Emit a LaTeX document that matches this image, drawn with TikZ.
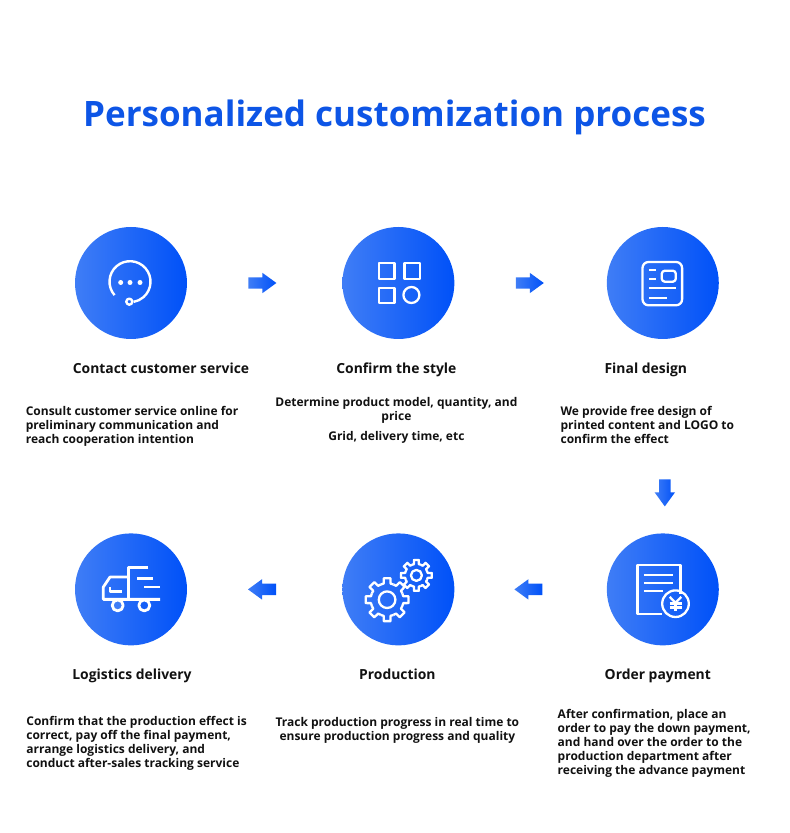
\documentclass[tikz,border=0pt]{standalone}
\usepackage{fontspec}
\setmainfont{Open Sans}
\usepackage{xcolor}
\usetikzlibrary{positioning, shapes.arrows}
\definecolor{TitleBlue}{HTML}{0D55E6}
\definecolor{DiscLight}{HTML}{3F7DF6}
\definecolor{DiscDark}{HTML}{0051F8}
\definecolor{Ink}{HTML}{111111}
\newcommand{\drawgear}[4]{%
  \begin{scope}[shift={#1}]
    \foreach \a in {0,45,...,315}
      \draw[icon] (\a-22.5:#3) -- (\a-12:#3) -- (\a-9:#2) -- (\a+9:#2) -- (\a+12:#3) -- (\a+22.5:#3);
    \draw[icon] (0,0) circle (#4);
  \end{scope}}
\begin{document}
\begin{tikzpicture}[
  x=1pt, y=1pt,
  disc/.style={circle, minimum size=112pt, inner sep=0pt, left color=DiscLight, right color=DiscDark},
  blockarrow/.style={single arrow, minimum width=20pt, minimum height=28pt, inner xsep=0pt, inner ysep=5.5pt, single arrow head extend=4.5pt, single arrow tip angle=72, left color=DiscLight, right color=DiscDark},
  icon/.style={draw=white, line width=2.3pt, line join=round},
  head/.style={font=\bfseries\fontsize{13.9}{17}\selectfont, color=Ink, inner sep=0pt},
  desc/.style={font=\bfseries\fontsize{12}{14}\selectfont, color=Ink, inner sep=0pt, align=left}
]
\useasboundingbox (0,0) rectangle (790,833);
\node[font=\bfseries\fontsize{35}{40}\selectfont, color=TitleBlue, inner sep=0pt] (title) at (394.5,716) {Personalized customization process};

\node[disc] (contact) at (131,550) {};
\node[disc, right=155pt of contact] (style) {};
\node[disc, right=152pt of style] (final) {};
\node[disc, below=194pt of contact] (logistics) {};
\node[disc, below=194pt of style] (production) {};
\node[disc, below=194pt of final] (order) {};

\node[blockarrow, right=61pt of contact] (arrowa) {};
\node[blockarrow, right=61pt of style] (arrowb) {};
\node[blockarrow, shape border rotate=270, below=140pt of final, xshift=2pt, minimum height=27pt, inner xsep=5.5pt, inner ysep=0pt] (arrowc) {};
\node[blockarrow, shape border rotate=180, left=66pt of production] (arrowd) {};
\node[blockarrow, shape border rotate=180, left=64pt of order] (arrowe) {};

\node[head, below=24pt of contact, xshift=30pt] (contacthead) {Contact customer service};
\node[head, below=23pt of style, xshift=-2pt] (stylehead) {Confirm the style};
\node[head, below=24pt of final, xshift=-17pt] (finalhead) {Final design};
\node[head, below=23pt of logistics, xshift=1pt] (logisticshead) {Logistics delivery};
\node[head, below=23pt of production, xshift=-1pt] (productionhead) {Production};
\node[head, below=23pt of order, xshift=-5pt] (orderhead) {Order payment};

\node[desc, below right=32pt and -47pt of contacthead.south west] (contactdesc) {Consult customer service online for\\preliminary communication and\\reach cooperation intention};
\node[desc, align=center, below=21pt of stylehead] (styledesc) {Determine product model, quantity, and\\price\\[6pt]Grid, delivery time, etc};
\node[desc, below right=29pt and -44pt of finalhead.south west] (finaldesc) {We provide free design of\\printed content and LOGO to\\confirm the effect};
\node[desc, below right=33pt and -46pt of logisticshead.south west] (logisticsdesc) {Confirm that the production effect is\\correct, pay off the final payment,\\arrange logistics delivery, and\\conduct after-sales tracking service};
\node[desc, align=center, below=37pt of productionhead] (productiondesc) {Track production progress in real time to\\ensure production progress and quality};
\node[desc, below right=26pt and -47pt of orderhead.south west] (orderdesc) {After confirmation, place an\\order to pay the down payment,\\and hand over the order to the\\production department after\\receiving the advance payment};

\begin{scope}[shift={(contact.center)}]
  \draw[icon, line width=2.4pt] (-1,1.3) ++(221:20.5) arc (221:-80:20.5);
  \draw[icon, line width=2.4pt, fill=DiscDark!50!DiscLight] (-1.7,-18.7) circle (3);
  \foreach \x in {-10.3,-1,9}
    \fill[white] (\x,0.5) circle (2.5);
\end{scope}

\begin{scope}[shift={(style.center)}]
  \draw[icon] (-19.3,3.7) rectangle (-4,19.7);
  \draw[icon] (6,3.7) rectangle (21.3,19.7);
  \draw[icon] (-19.3,-19.7) rectangle (-4,-4.7);
  \draw[icon] (13,-12) circle (8);
\end{scope}

\begin{scope}[shift={(final.center)}]
  \draw[icon, rounded corners=6pt] (-20.3,21) rectangle (19.3,-22.3);
  \draw[icon, rounded corners=3pt] (-1,12.3) rectangle (13,1.3);
  \draw[icon] (-13.7,13) -- (-7,13);
  \draw[icon] (-13.7,3.7) -- (-7,3.7);
  \draw[icon] (-13.7,-5.3) -- (13,-5.3);
  \draw[icon] (-13.7,-14.7) -- (4.3,-14.7);
\end{scope}

\begin{scope}[shift={(order.center)}]
  \draw[icon] (17.7,-4.3) -- (17.7,24.3) -- (-25.3,24.3) -- (-25.3,-24.3) -- (-1.3,-24.3);
  \draw[icon] (-19,14.7) -- (10.3,14.7);
  \draw[icon] (-19,6.7) -- (10.3,6.7);
  \draw[icon] (-19,-1.7) -- (0.3,-1.7);
  \draw[icon] (12.7,-14.3) circle (13.3);
  \draw[icon] (7,-7.5) -- (12.7,-13.5) -- (18.4,-7.5);
  \draw[icon] (12.7,-13.5) -- (12.7,-22);
  \draw[icon] (6.7,-14) -- (18.7,-14);
  \draw[icon] (6.7,-18) -- (18.7,-18);
\end{scope}

\begin{scope}[shift={(production.center)}]
  \drawgear{(-11.3,-10.3)}{21.7}{16.5}{8.3}
  \drawgear{(18,14)}{15.5}{11.5}{5.5}
\end{scope}

\begin{scope}[shift={(logistics.center)}]
  \draw[icon, line width=2.8pt] (17.3,21.7) -- (-2.7,21.7) -- (-2.7,-10);
  \draw[icon, line width=2.8pt] (-2.7,12.3) -- (-21,12.3) -- (-27.7,2.3) -- (-27.7,-10) -- (29,-10);
  \draw[icon, line width=2.8pt] (6.3,10.7) -- (21.7,10.7);
  \draw[icon, line width=2.8pt] (13.3,2.3) -- (29,2.3);
  \draw[icon, line width=2.8pt] (-21,2.3) -- (-21,-2) -- (-9.3,-2);
  \draw[icon, line width=2.8pt, fill=DiscLight] (-13.3,-16) circle (5.5);
  \draw[icon, line width=2.8pt, fill=DiscDark!70!DiscLight] (13.3,-16) circle (5.5);
\end{scope}
\end{tikzpicture}
\end{document}
